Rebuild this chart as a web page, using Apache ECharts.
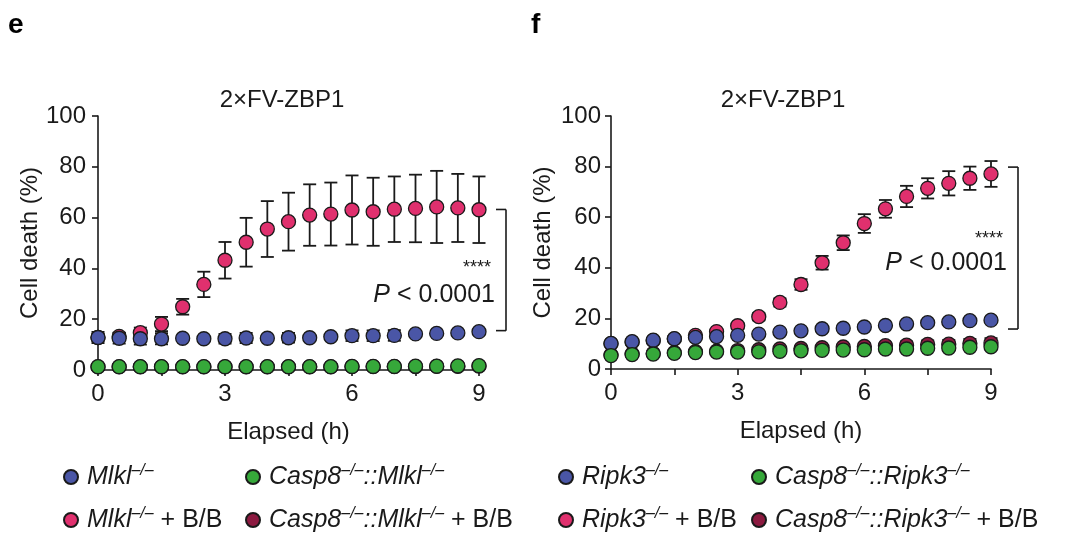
<!DOCTYPE html>
<html><head><meta charset="utf-8">
<script src="https://cdn.jsdelivr.net/npm/echarts@6/dist/echarts.min.js"></script>
<style>html,body{margin:0;padding:0;background:#fff}#c{width:1080px;height:541px}</style>
</head><body><div id="c"></div>
<script>
// ---------- data ----------
const times = [0,0.5,1,1.5,2,2.5,3,3.5,4,4.5,5,5.5,6,6.5,7,7.5,8,8.5,9];
const xTickLabels = [0,3,6,9];
const yTickLabels = [0,20,40,60,80,100];

// panel e
const eNames = ['Mlkl–/–','Casp8–/–::Mlkl–/–','Mlkl–/– + B/B','Casp8–/–::Mlkl–/– + B/B'];
const eMlkl      = [12.8,12.5,12.3,12.3,12.5,12.3,12.3,12.6,12.5,12.7,12.7,13.1,13.5,13.5,13.6,14.2,14.4,14.6,15.1];
const eMlklErr   = [2.2,2.1,2.3,2.2,0.6,0.6,1.9,2.0,0.6,1.9,0.6,0.6,2.1,2.1,2.1,0.8,0.8,0.8,0.8];
const eCasp      = [1.3,1.3,1.3,1.3,1.3,1.3,1.3,1.3,1.3,1.3,1.3,1.3,1.4,1.4,1.4,1.5,1.5,1.6,1.7];
const eMlklBB    = [12.8,13.2,14.7,18.1,24.9,33.7,43.2,50.3,55.5,58.4,61.0,61.4,63.0,62.3,63.3,63.6,64.2,63.8,63.1];
const eMlklBBErr = [1.5,1.5,2.0,2.8,3.1,5.0,7.2,9.6,11.0,11.4,12.1,12.4,13.6,13.4,12.9,13.3,14.2,13.4,13.1];
const eCaspBB    = [1.2,1.2,1.2,1.2,1.2,1.2,1.2,1.2,1.2,1.2,1.2,1.2,1.3,1.3,1.3,1.3,1.4,1.4,1.5];
const eAnnot = {top: 63.2, bottom: 15.5, stars: 40.2, p: 29.5};

// panel f
const fNames = ['Ripk3–/–','Casp8–/–::Ripk3–/–','Ripk3–/– + B/B','Casp8–/–::Ripk3–/– + B/B'];
const fRipk      = [10.1,10.8,11.4,12.0,12.5,12.8,13.3,13.8,14.6,15.1,15.9,16.1,16.6,17.2,17.8,18.3,18.6,19.1,19.3];
const fRipkErr   = [0.6,0.6,0.6,0.6,0.6,0.6,0.6,0.6,0.6,0.6,0.6,0.6,0.6,0.6,0.6,0.6,0.6,0.6,0.6];
const fCasp      = [5.3,5.7,5.9,6.2,6.5,6.7,6.7,6.8,7.0,7.2,7.4,7.5,7.6,7.9,7.9,8.2,8.3,8.6,8.8];
const fRipkBB    = [10.0,10.6,11.2,11.9,13.3,14.8,17.1,20.7,26.3,33.4,42.0,49.9,57.5,63.3,68.2,71.4,73.4,75.4,77.1];
const fRipkBBErr = [0.8,0.8,0.8,0.8,0.8,1.0,1.2,1.5,1.6,2.1,2.7,2.9,3.7,3.5,4.2,4.0,4.8,4.6,5.1];
const fCaspBB    = [5.6,6.0,6.2,6.5,6.9,7.1,7.3,7.6,7.9,8.1,8.4,8.7,8.9,9.2,9.4,9.7,9.8,10.1,10.3];
const fCaspBBErr = [0.5,0.5,0.5,0.5,0.5,0.5,0.6,0.6,0.7,0.8,0.9,1.0,1.2,1.3,1.5,1.6,1.7,1.8,1.9];
const fAnnot = {top: 79.8, bottom: 15.8, stars: 51.4, p: 41.9};

// ---------- styles ----------
const FONT = 'Liberation Sans, Arial, Helvetica, sans-serif';
const INK = '#1a1a1a';
const C_BLUE = '#4a56a6', C_GREEN = '#36a83a', C_PINK = '#e0306e', C_MAROON = '#8c1a40';

const chart = echarts.init(document.getElementById('c'), null, {renderer:'canvas'});

function xAxisDef(gi){
  return {type:'value', gridIndex:gi, min:0, max:9, interval:1.5,
    axisLine:{show:true, onZero:false, lineStyle:{color:INK, width:1.6}},
    axisTick:{show:true, length:6, lineStyle:{color:INK, width:1.6}},
    axisLabel:{margin:12, fontSize:24, color:INK, fontFamily:FONT,
      formatter:v => xTickLabels.indexOf(v) >= 0 ? String(v) : ''},
    splitLine:{show:false},
    name:'Elapsed (h)', nameLocation:'middle', nameGap:50,
    nameTextStyle:{fontSize:24, color:INK, fontFamily:FONT}};
}
function yAxisDef(gi, margin){
  return {type:'value', gridIndex:gi, min:0, max:100, interval:20,
    axisLine:{show:true, lineStyle:{color:INK, width:1.6}},
    axisTick:{show:true, length:6, lineStyle:{color:INK, width:1.6}},
    axisLabel:{margin:margin, fontSize:24, color:INK, fontFamily:FONT,
      formatter:v => yTickLabels.indexOf(v) >= 0 ? String(v) : ''},
    splitLine:{show:false},
    name:'Cell death (%)', nameLocation:'middle', nameGap:56, nameRotate:90,
    nameTextStyle:{fontSize:24, color:INK, fontFamily:FONT}};
}

function errSeries(gi, vals, errs, name){
  return {type:'custom', name:name+' err', xAxisIndex:gi, yAxisIndex:gi, z:1,
    data: times.map((t,i)=>[t, vals[i], errs[i]]),
    encode:{x:0, y:1},
    renderItem:(params, api)=>{
      const x=api.value(0), y=api.value(1), e=api.value(2);
      const a=api.coord([x, y+e]), b=api.coord([x, y-e]);
      const hw=6.5, st={stroke:INK, lineWidth:1.8};
      return {type:'group', children:[
        {type:'line', shape:{x1:a[0],y1:a[1],x2:b[0],y2:b[1]}, style:st},
        {type:'line', shape:{x1:a[0]-hw,y1:a[1],x2:a[0]+hw,y2:a[1]}, style:st},
        {type:'line', shape:{x1:b[0]-hw,y1:b[1],x2:b[0]+hw,y2:b[1]}, style:st}
      ]};
    }, silent:true};
}
function dotSeries(gi, vals, name, color, z){
  return {type:'scatter', name:name, xAxisIndex:gi, yAxisIndex:gi, z:z,
    data: times.map((t,i)=>[t, vals[i]]),
    symbol:'circle', symbolSize:14,
    itemStyle:{color:color, borderColor:INK, borderWidth:1.3, opacity:1}};
}
function annotSeries(gi, ann){
  return {type:'custom', xAxisIndex:gi, yAxisIndex:gi, z:5, silent:true,
    data:[[times[times.length-1], ann.top, ann.bottom, ann.stars, ann.p]],
    encode:{x:0, y:1},
    renderItem:(params, api)=>{
      const x=api.value(0);
      const t=api.coord([x, api.value(1)]), b=api.coord([x, api.value(2)]);
      const s=api.coord([x, api.value(3)]), p=api.coord([x, api.value(4)]);
      const bx=t[0]+27, st={stroke:INK, lineWidth:1.6};
      return {type:'group', children:[
        {type:'line', shape:{x1:bx,y1:t[1],x2:bx,y2:b[1]}, style:st},
        {type:'line', shape:{x1:bx-10,y1:t[1],x2:bx,y2:t[1]}, style:st},
        {type:'line', shape:{x1:bx-10,y1:b[1],x2:bx,y2:b[1]}, style:st},
        {type:'text', style:{text:'****', x:bx-15, y:s[1], textAlign:'right', textVerticalAlign:'middle',
          fontSize:18, fontFamily:FONT, fill:INK}},
        {type:'text', style:{text:'{p|P} < 0.0001', x:bx-11, y:p[1], textAlign:'right', textVerticalAlign:'middle',
          fontSize:25, fontFamily:FONT, fill:INK,
          rich:{p:{fontStyle:'italic', fontSize:25, fontFamily:FONT, fill:INK}}}}
      ]};
    }};
}

function legendFormatter(name){
  let bb = '';
  let main = name;
  if (name.indexOf(' + B/B') >= 0){ main = name.replace(' + B/B',''); bb = '{n| + B/B}'; }
  const parts = main.split('–/–');
  let out = '';
  parts.forEach((p, i)=>{
    if (p) out += '{i|' + p + '}';
    if (i < parts.length-1) out += '{s|–/–}';
  });
  return out + bb;
}
const legendRich = {
  i:{fontStyle:'italic', fontSize:25, lineHeight:28, fontFamily:FONT, color:INK},
  s:{fontStyle:'italic', fontSize:16, lineHeight:16, verticalAlign:'top', fontFamily:FONT, color:INK},
  n:{fontSize:25, lineHeight:28, fontFamily:FONT, color:INK}
};
function legendDef(name, left, top){
  return {data:[name], left:left, top:top, orient:'horizontal', icon:'circle',
    itemWidth:14, itemHeight:14, itemGap:0, padding:0, selectedMode:false,
    formatter:legendFormatter,
    textStyle:{rich:legendRich, padding:[0,0,0,4], fontSize:25, fontFamily:FONT, color:INK}};
}

const option = {
  backgroundColor:'#fff',
  animation:false,
  textStyle:{fontFamily:FONT},
  grid:[
    {left:98, top:116, width:381, height:254},
    {left:611, top:116, width:380, height:253}
  ],
  xAxis:[xAxisDef(0), xAxisDef(1)],
  yAxis:[yAxisDef(0, 12), yAxisDef(1, 10)],
  legend:[
    legendDef(eNames[0], 63, 463), legendDef(eNames[1], 245, 463),
    legendDef(eNames[2], 63, 506), legendDef(eNames[3], 245, 506),
    legendDef(fNames[0], 558, 463), legendDef(fNames[1], 751, 463),
    legendDef(fNames[2], 558, 506), legendDef(fNames[3], 751, 506)
  ],
  graphic:[
    {type:'text', left:8, top:11, style:{text:'e', fontSize:28, fontWeight:'bold', fontFamily:FONT, fill:'#000'}},
    {type:'text', left:531, top:11, style:{text:'f', fontSize:28, fontWeight:'bold', fontFamily:FONT, fill:'#000'}},
    {type:'text', x:282, y:100, style:{text:'2×FV-ZBP1', textAlign:'center', textVerticalAlign:'middle', fontSize:24, fontFamily:FONT, fill:INK}},
    {type:'text', x:783, y:100, style:{text:'2×FV-ZBP1', textAlign:'center', textVerticalAlign:'middle', fontSize:24, fontFamily:FONT, fill:INK}}
  ],
  series:[
    // panel e
    errSeries(0, eCaspBB, eCaspBB.map(()=>0), eNames[3]),
    errSeries(0, eMlklBB, eMlklBBErr, eNames[2]),
    errSeries(0, eMlkl, eMlklErr, eNames[0]),
    dotSeries(0, eCaspBB, eNames[3], C_MAROON, 2),
    dotSeries(0, eMlklBB, eNames[2], C_PINK, 2),
    dotSeries(0, eMlkl, eNames[0], C_BLUE, 2),
    dotSeries(0, eCasp, eNames[1], C_GREEN, 2),
    annotSeries(0, eAnnot),
    // panel f
    errSeries(1, fCaspBB, fCaspBBErr, fNames[3]),
    errSeries(1, fRipkBB, fRipkBBErr, fNames[2]),
    errSeries(1, fRipk, fRipkErr, fNames[0]),
    dotSeries(1, fCaspBB, fNames[3], C_MAROON, 2),
    dotSeries(1, fRipkBB, fNames[2], C_PINK, 2),
    dotSeries(1, fRipk, fNames[0], C_BLUE, 2),
    dotSeries(1, fCasp, fNames[1], C_GREEN, 2),
    annotSeries(1, fAnnot)
  ]
};
chart.setOption(option);
</script>
</body></html>
